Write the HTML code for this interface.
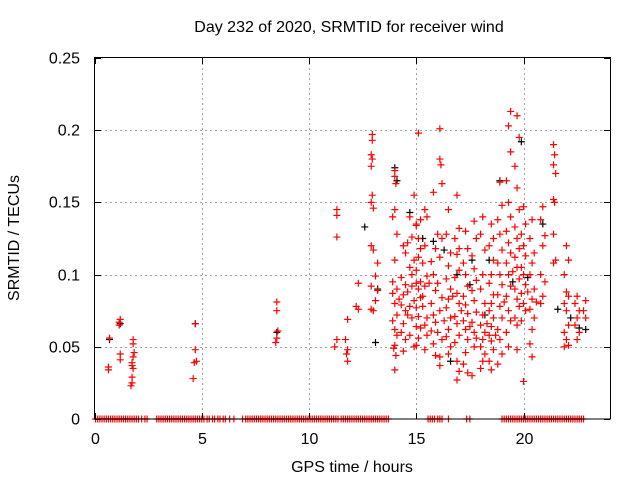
<!DOCTYPE html>
<html><head><meta charset="utf-8"><style>
body{margin:0;background:#fff}
svg text{font-family:"Liberation Sans",sans-serif;font-size:16px;fill:#000}
</style></head><body>
<svg id="chart" width="640" height="480" xmlns="http://www.w3.org/2000/svg">
<rect width="640" height="480" fill="#fff"/>
<g id="grid"></g>
<g id="marks"></g>
<rect x="94.5" y="57.5" width="516" height="361.5" fill="none" stroke="#000"/>
<g id="ticks"></g>
<text x="349" y="32" text-anchor="middle">Day 232 of 2020, SRMTID for receiver wind</text>
<text x="352" y="472" text-anchor="middle">GPS time / hours</text>
<text transform="translate(19,238) rotate(-90)" text-anchor="middle">SRMTID / TECUs</text>
</svg>
<script>
const xTicks=[0,5,10,15,20];
const yTicks=[0,0.05,0.1,0.15,0.2,0.25];
const yTickLabels=["0","0.05","0.1","0.15","0.2","0.25"];
const redPts=[
[0.7,0.056],[0.65,0.036],[0.65,0.034],[1.2,0.069],[1.15,0.067],[1.15,0.065],[1.2,0.045],[1.2,0.041],
[1.8,0.055],[1.8,0.052],[1.85,0.046],[1.8,0.043],[1.75,0.039],[1.75,0.037],[1.8,0.035],[1.75,0.029],[1.75,0.025],[1.7,0.023],
[4.7,0.066],[4.7,0.048],[4.75,0.040],[4.65,0.039],[4.6,0.028],[8.5,0.081],[8.5,0.075],[8.55,0.061],[8.5,0.056],[8.45,0.053],
[11.3,0.145],[11.3,0.141],[11.3,0.126],[11.3,0.055],[11.2,0.050],[11.8,0.069],[11.7,0.055],[11.8,0.048],[11.75,0.045],[11.8,0.040],
[12.3,0.094],[12.2,0.078],[12.3,0.076],[12.95,0.197],[12.95,0.193],[12.9,0.183],[12.95,0.180],[12.9,0.175],[12.95,0.155],[12.9,0.150],[13.0,0.146],[12.9,0.120],[13.0,0.117],[12.9,0.092],[13.1,0.082],[12.9,0.076],[13.0,0.075],
[13.2,0.108],[13.1,0.099],[13.2,0.089],
[14.0,0.172],[14.0,0.168],[14.05,0.163],[14.0,0.145],[13.9,0.14],[14.1,0.128],[14.0,0.11],[13.9,0.095],[14.1,0.09],[13.9,0.087],[14.0,0.08],[14.1,0.072],[13.9,0.068],[14.0,0.062],[14.1,0.058],[14.0,0.051],[13.95,0.049],[14.05,0.044],[14.0,0.034],
[14.4,0.12],[14.5,0.115],[14.3,0.098],[14.5,0.093],[14.4,0.086],[14.3,0.079],[14.5,0.075],[14.4,0.066],[14.3,0.06],[14.5,0.055],[14.4,0.047],
[14.9,0.155],[14.7,0.14],[15.0,0.135],[14.8,0.126],[14.6,0.122],[14.9,0.11],[14.7,0.105],[14.8,0.1],[15.0,0.094],[14.6,0.088],[14.9,0.082],[14.7,0.078],[14.8,0.07],[15.0,0.064],[14.7,0.058],[14.9,0.05],
[15.1,0.198],[15.2,0.138],[15.0,0.134],[15.1,0.125],[15.2,0.118],[15.1,0.112],[15.0,0.103],[15.2,0.095],[15.1,0.09],[15.2,0.084],[15.0,0.077],[15.1,0.071],[15.2,0.063],[15.1,0.056],[15.0,0.051],
[15.4,0.145],[15.5,0.14],[15.4,0.12],[15.3,0.108],[15.5,0.099],[15.4,0.092],[15.3,0.085],[15.5,0.07],[15.4,0.065],[15.4,0.048],
[15.8,0.157],[15.9,0.118],[15.7,0.109],[15.8,0.1],[15.9,0.089],[15.7,0.08],[15.8,0.072],[15.9,0.067],[15.7,0.061],[15.8,0.052],[15.9,0.044],
[16.1,0.201],[16.1,0.18],[16.15,0.176],[16.2,0.163],[16.0,0.128],[16.2,0.125],[16.1,0.112],[16.0,0.094],[16.2,0.084],[16.1,0.075],[16.0,0.06],[16.2,0.055],[16.1,0.043],[16.1,0.037],
[16.5,0.145],[16.4,0.128],[16.6,0.115],[16.5,0.106],[16.4,0.097],[16.6,0.09],[16.5,0.083],[16.4,0.077],[16.6,0.07],[16.5,0.062],[16.4,0.057],[16.6,0.05],[16.5,0.045],
[16.9,0.155],[17.0,0.132],[16.8,0.125],[16.9,0.114],[17.0,0.103],[16.8,0.098],[16.9,0.087],[17.0,0.08],[16.8,0.071],[16.9,0.066],[17.0,0.058],[16.8,0.053],[16.9,0.04],[17.0,0.033],[16.9,0.027],
[17.3,0.13],[17.4,0.118],[17.2,0.108],[17.3,0.1],[17.4,0.092],[17.2,0.085],[17.3,0.079],[17.4,0.073],[17.2,0.068],[17.3,0.062],[17.4,0.055],[17.3,0.046],[17.2,0.038],[17.4,0.032],
[17.7,0.137],[17.8,0.125],[17.6,0.113],[17.7,0.104],[17.8,0.096],[17.6,0.089],[17.7,0.082],[17.8,0.074],[17.6,0.067],[17.7,0.06],[17.8,0.056],[17.7,0.05],[17.6,0.03],
[18.1,0.14],[18.0,0.128],[18.2,0.117],[18.1,0.1],[18.0,0.09],[18.2,0.08],[18.1,0.072],[18.0,0.065],[18.2,0.06],[18.1,0.055],[18.0,0.05],[18.2,0.045],[18.1,0.04],[18.0,0.035],
[18.5,0.135],[18.4,0.12],[18.6,0.11],[18.5,0.1],[18.4,0.094],[18.6,0.086],[18.5,0.08],[18.4,0.075],[18.6,0.07],[18.5,0.064],[18.4,0.058],[18.5,0.054],[18.6,0.048],[18.4,0.04],[18.5,0.034],
[18.9,0.164],[19.0,0.148],[18.8,0.138],[18.9,0.128],[19.0,0.117],[18.8,0.108],[18.9,0.1],[19.0,0.093],[18.8,0.086],[18.9,0.078],[19.0,0.07],[18.8,0.062],[18.9,0.055],[19.0,0.045],[18.8,0.038],
[19.4,0.213],[19.3,0.203],[19.4,0.185],[19.2,0.165],[19.3,0.15],[19.4,0.14],[19.2,0.13],[19.3,0.122],[19.4,0.115],[19.2,0.108],[19.3,0.1],[19.4,0.092],[19.2,0.085],[19.3,0.075],[19.4,0.068],[19.2,0.06],[19.3,0.05],
[19.7,0.21],[19.8,0.195],[19.6,0.175],[19.7,0.16],[19.8,0.145],[19.6,0.133],[19.7,0.125],[19.8,0.118],[19.6,0.112],[19.7,0.105],[19.8,0.097],[19.6,0.09],[19.7,0.083],[19.8,0.078],[19.6,0.07],[19.7,0.065],[19.7,0.048],
[20.0,0.147],[20.1,0.135],[19.9,0.128],[20.0,0.12],[20.1,0.113],[19.9,0.105],[20.0,0.1],[20.1,0.093],[19.9,0.087],[20.0,0.08],[20.1,0.075],[19.9,0.068],[20.0,0.026],
[20.4,0.138],[20.3,0.125],[20.5,0.115],[20.4,0.108],[20.3,0.1],[20.5,0.09],[20.4,0.083],[20.3,0.076],[20.5,0.07],[20.4,0.062],[20.3,0.052],[20.4,0.043],
[20.9,0.147],[20.8,0.138],[21.0,0.127],[20.9,0.12],[20.8,0.1],[21.0,0.095],[20.9,0.085],[20.8,0.08],
[21.4,0.19],[21.45,0.183],[21.4,0.176],[21.5,0.17],[21.4,0.152],[21.45,0.15],[21.4,0.128],[21.5,0.11],[21.4,0.108],
[22.0,0.12],[22.1,0.11],[21.9,0.1],[22.0,0.088],[22.1,0.085],[21.9,0.08],[22.0,0.075],[22.1,0.065],[21.9,0.06],[22.0,0.055],[22.1,0.051],[21.9,0.05],
[22.5,0.085],[22.4,0.08],[22.6,0.075],[22.5,0.07],[22.4,0.065],[22.6,0.06],[22.5,0.055],[22.9,0.082],[22.8,0.075],[22.9,0.07],
[14.2,0.083],[14.6,0.072],[15.3,0.078],[15.6,0.094],[16.3,0.068],[16.7,0.085],[17.1,0.075],[17.5,0.064],[18.3,0.066],[18.7,0.058],[19.1,0.081],[19.5,0.102],[20.2,0.088],[20.6,0.081],[15.5,0.058],[17.0,0.118],[18.6,0.125],[14.8,0.092]
];
const blackPts=[
[0.7,0.055],[1.2,0.066],[4.7,0.066],[8.5,0.06],[12.6,0.133],[13.2,0.09],[13.1,0.053],[14.0,0.174],[14.1,0.165],[14.7,0.143],
[15.3,0.125],[15.8,0.123],[16.3,0.117],[16.9,0.1],[17.6,0.11],[18.2,0.072],[18.9,0.165],[19.5,0.095],[19.9,0.192],[20.2,0.098],
[20.9,0.135],[21.6,0.076],[22.2,0.07],[22.9,0.062],[22.6,0.063],[16.6,0.04],[17.5,0.093],[18.4,0.11]
];
const zeroTimes=[0.05,0.15,0.25,0.35,0.45,0.55,0.65,0.75,0.85,0.95,1.05,1.15,1.25,1.35,1.45,1.55,1.65,1.75,1.85,1.95,2.05,2.2,2.35,2.45,2.9,3.0,3.1,3.2,3.3,3.4,3.5,3.6,3.7,3.8,3.9,4.0,4.1,4.2,4.3,4.4,4.5,4.6,4.7,4.8,4.9,5.0,5.1,5.25,5.35,5.5,5.6,5.75,5.85,6.0,6.1,6.3,6.5,6.9,7.05,7.15,7.25,7.35,7.45,7.55,7.65,7.75,7.85,7.95,8.05,8.15,8.25,8.35,8.45,8.55,8.65,8.75,8.85,8.95,9.05,9.15,9.25,9.35,9.45,9.55,9.65,9.75,9.85,9.95,10.05,10.15,10.25,10.35,10.45,10.55,10.65,10.75,10.85,10.95,11.05,11.15,11.25,11.35,11.5,11.6,11.7,11.8,11.9,12.0,12.1,12.2,12.3,12.4,12.5,12.6,12.7,12.8,12.9,13.0,13.1,13.2,13.3,13.4,13.5,13.6,13.7,15.55,15.65,15.75,15.85,16.0,16.1,16.2,16.5,17.35,17.5,19.0,19.1,19.2,19.3,19.4,19.5,19.6,19.7,19.8,19.9,20.0,20.1,20.2,20.3,20.4,20.5,20.6,20.7,20.8,20.9,21.0,21.1,21.2,21.3,21.4,21.5,21.6,21.7,21.8,21.9,22.0,22.1,22.2,22.3,22.4,22.5,22.6,22.7,22.8];
const X=t=>94.5+t*21.45, Y=v=>419-v*1444;
const NS="http://www.w3.org/2000/svg";
const grid=document.getElementById('grid'),ticks=document.getElementById('ticks'),marks=document.getElementById('marks');
function ln(p,x1,y1,x2,y2,st,dash){const l=document.createElementNS(NS,'line');l.setAttribute('x1',x1);l.setAttribute('y1',y1);l.setAttribute('x2',x2);l.setAttribute('y2',y2);l.setAttribute('stroke',st);if(dash)l.setAttribute('stroke-dasharray',dash);p.appendChild(l);return l;}
function tx(p,x,y,s,a){const t=document.createElementNS(NS,'text');t.setAttribute('x',x);t.setAttribute('y',y);t.setAttribute('text-anchor',a);t.textContent=s;p.appendChild(t);return t;}
xTicks.forEach(t=>{const x=Math.round(X(t))+0.5;
 if(t>0){const g=ln(grid,x,58,x,419,'#a0a0a0','2,3');
 
 }
 ln(ticks,x,419,x,413,'#000');ln(ticks,x,58,x,64,'#000');
 const l=tx(ticks,x,444,String(t),'middle');
 
 });
yTicks.forEach((v,i)=>{const y=Math.round(Y(v))+0.5;
 if(v>0&&v<0.25){const g=ln(grid,95,y,610,y,'#a0a0a0','2,3');
 
 }
 ln(ticks,95,y,101,y,'#000');ln(ticks,610,y,604,y,'#000');
 const l=tx(ticks,80,y+5,yTickLabels[i],'end');
 
 });
function plus(t,v,c,name){const x=X(t),y=Y(v);const p=document.createElementNS(NS,'path');
 p.setAttribute('d',`M${x-3.5} ${y}H${x+3.5}M${x} ${y-3.5}V${y+3.5}`);p.setAttribute('stroke',c);p.setAttribute('stroke-width','1.2');p.setAttribute('fill','none');
 
 
 marks.appendChild(p);}
blackPts.forEach(d=>plus(d[0],d[1],'#000','black-point'));
redPts.forEach(d=>plus(d[0],d[1],'#f00','red-point'));
zeroTimes.forEach(t=>plus(t,0,'#f00','zero-point'));
</script>
</body></html>
